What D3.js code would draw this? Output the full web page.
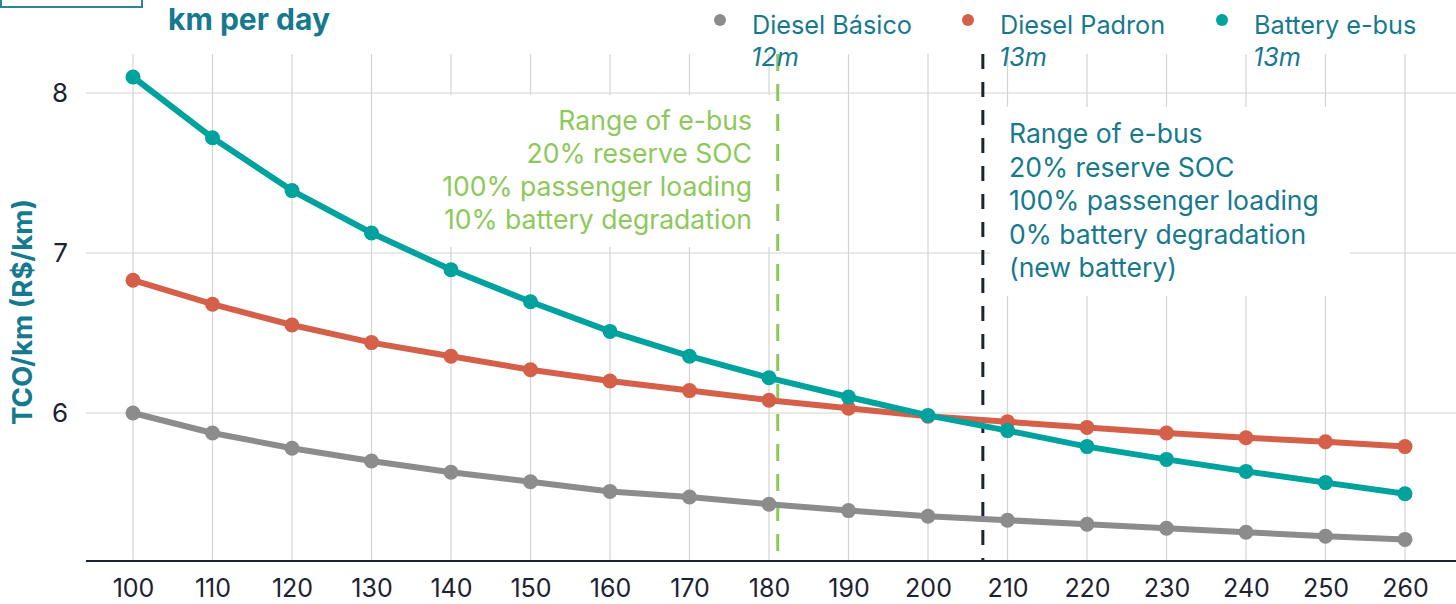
<!DOCTYPE html>
<html>
<head>
<meta charset="utf-8">
<script src="https://cdn.jsdelivr.net/npm/d3@7"></script>
<style>
  html, body { margin: 0; padding: 0; background: #fff; }
  svg { display: block; }
</style>
</head>
<body>
<svg id="chart" width="1456" height="604"></svg>
<script>
// ---- data ----
const kmPerDay = [100, 110, 120, 130, 140, 150, 160, 170, 180, 190, 200, 210, 220, 230, 240, 250, 260];
const dieselBasico = [6.00, 5.875, 5.78, 5.70, 5.63, 5.57, 5.51, 5.475, 5.43, 5.39, 5.355, 5.33, 5.305, 5.28, 5.255, 5.23, 5.21];
const dieselPadron = [6.83, 6.68, 6.55, 6.44, 6.355, 6.27, 6.20, 6.14, 6.08, 6.03, 5.98, 5.945, 5.91, 5.875, 5.845, 5.82, 5.79];
const batteryEbus = [8.10, 7.72, 7.39, 7.125, 6.895, 6.695, 6.51, 6.355, 6.22, 6.10, 5.985, 5.89, 5.79, 5.71, 5.635, 5.565, 5.495];
const yTicks = [6, 7, 8];
const seriesNames = ["Diesel Básico", "Diesel Padron", "Battery e-bus"];
const seriesSizes = ["12m", "13m", "13m"];
const rangeDegraded = 181.1;   // e-bus range, 10% degradation
const rangeNew = 206.9;        // e-bus range, new battery
const noteDegraded = ["Range of e-bus", "20% reserve SOC", "100% passenger loading", "10% battery degradation"];
const noteNew = ["Range of e-bus", "20% reserve SOC", "100% passenger loading", "0% battery degradation", "(new battery)"];

// ---- styles ----
const colors = ["#8c8c8c", "#d4604a", "#00a29d"];
const textTeal = "#17798e";
const green = "#8dc85b";
const dark = "#1c2232";
const gridColor = "#d4d4d4";
const FONT = "Inter, 'Open Sans', sans-serif";

const svg = d3.select("#chart");
const plotLeft = 86, plotRight = 1456, plotTop = 54, plotBottom = 561;

const x = d3.scaleLinear().domain([100, 260]).range([133, 1405]);
const y = d3.scaleLinear().domain([6, 8]).range([413, 93]);

// fit a text element's font size so that its width matches a target
function fitWidth(sel, target) {
  sel.each(function () {
    const w = this.getComputedTextLength();
    const fs = parseFloat(d3.select(this).attr("font-size"));
    if (w > 0) d3.select(this).attr("font-size", (fs * target / w).toFixed(2));
  });
}

// gridlines
svg.append("g").selectAll("line").data(yTicks).join("line")
  .attr("x1", plotLeft).attr("x2", plotRight)
  .attr("y1", d => y(d)).attr("y2", d => y(d))
  .attr("stroke", gridColor).attr("stroke-width", 1.2);
svg.append("g").selectAll("line").data(kmPerDay).join("line")
  .attr("x1", d => x(d)).attr("x2", d => x(d))
  .attr("y1", plotTop).attr("y2", plotBottom)
  .attr("stroke", gridColor).attr("stroke-width", 1.2);

// annotation backgrounds
svg.append("rect").attr("x", 415).attr("y", 95).attr("width", 360).attr("height", 152).attr("fill", "#fff");
svg.append("rect").attr("x", 990).attr("y", 107).attr("width", 360).attr("height", 189).attr("fill", "#fff");

// x axis
const xAxis = d3.axisBottom(x).tickValues(kmPerDay).tickSize(0).tickPadding(18).tickFormat(d3.format("d"));
const gx = svg.append("g").attr("transform", `translate(0,${plotBottom})`).call(xAxis);
gx.select(".domain").remove();
gx.selectAll("text").attr("font-family", FONT).attr("font-size", 25).attr("fill", dark);
svg.append("line").attr("x1", plotLeft).attr("x2", plotRight).attr("y1", plotBottom).attr("y2", plotBottom)
  .attr("stroke", dark).attr("stroke-width", 2);

// y axis
const yAxis = d3.axisLeft(y).tickValues(yTicks).tickSize(0).tickPadding(0).tickFormat(d3.format("d"));
const gy = svg.append("g").attr("transform", `translate(68,0)`).call(yAxis);
gy.select(".domain").remove();
gy.selectAll("text").attr("font-family", FONT).attr("font-size", 26).attr("fill", dark);

// y label
const yl = svg.append("text").attr("transform", "translate(32,312) rotate(-90)")
  .attr("text-anchor", "middle").attr("font-family", FONT).attr("font-weight", 700)
  .attr("font-size", 22).attr("fill", textTeal).text("TCO/km (R$/km)");
fitWidth(yl, 226);

// title
const tt = svg.append("text").attr("x", 168).attr("y", 30).attr("font-family", FONT).attr("font-weight", 700)
  .attr("font-size", 26).attr("fill", textTeal).text("km per day");
fitWidth(tt, 162);

// top-left box remnant
svg.append("rect").attr("x", 1).attr("y", -4).attr("width", 141).attr("height", 11)
  .attr("fill", "none").attr("stroke", "#2a8596").attr("stroke-width", 2);

// dashed range lines
svg.append("line").attr("x1", x(rangeDegraded)).attr("x2", x(rangeDegraded)).attr("y1", plotTop).attr("y2", plotBottom)
  .attr("stroke", green).attr("stroke-width", 3).attr("stroke-dasharray", "17,13");
svg.append("line").attr("x1", x(rangeNew)).attr("x2", x(rangeNew)).attr("y1", plotTop).attr("y2", plotBottom)
  .attr("stroke", dark).attr("stroke-width", 3).attr("stroke-dasharray", "15,13");

// annotation texts
const t1 = svg.append("text").attr("font-family", FONT).attr("font-size", 24)
  .attr("fill", green).attr("text-anchor", "end");
noteDegraded.forEach((s, i) => t1.append("tspan").attr("x", 752).attr("y", 130 + i * 33).text(s));
const t2 = svg.append("text").attr("font-family", FONT).attr("font-size", 24)
  .attr("fill", textTeal).attr("text-anchor", "start");
noteNew.forEach((s, i) => t2.append("tspan").attr("x", 1009).attr("y", 143 + i * 33.5).text(s));
// scale annotation font so "100% passenger loading" is ~310px wide
{
  const tsp = t2.selectAll("tspan").filter((d, i) => i === 2).node();
  const w = tsp.getComputedTextLength();
  const fs = 24 * 310 / w;
  t1.attr("font-size", fs.toFixed(2));
  t2.attr("font-size", fs.toFixed(2));
}

// series
const allSeries = [dieselBasico, dieselPadron, batteryEbus];
const line = d3.line().x((d, i) => x(kmPerDay[i])).y(d => y(d));
allSeries.forEach((vals, si) => {
  const g = svg.append("g");
  g.append("path").datum(vals).attr("d", line).attr("fill", "none")
    .attr("stroke", colors[si]).attr("stroke-width", 6).attr("stroke-linejoin", "round");
  g.selectAll("circle").data(vals).join("circle")
    .attr("cx", (d, i) => x(kmPerDay[i])).attr("cy", d => y(d)).attr("r", 7.5).attr("fill", colors[si]);
});

// legend
const legendX = [720, 968, 1222];
let legendFs = 22;
seriesNames.forEach((n, i) => {
  svg.append("circle").attr("cx", legendX[i]).attr("cy", 20).attr("r", 6).attr("fill", colors[i]);
  const lt = svg.append("text").attr("x", legendX[i] + 32).attr("y", 34).attr("font-family", FONT)
    .attr("font-size", 22).attr("fill", textTeal).text(n);
  if (i === 0) { fitWidth(lt, 160); legendFs = parseFloat(lt.attr("font-size")); }
  else lt.attr("font-size", legendFs);
  svg.append("text").attr("x", legendX[i] + 31).attr("y", 66).attr("font-family", FONT)
    .attr("font-style", "italic").attr("font-size", legendFs).attr("fill", textTeal).text(seriesSizes[i]);
});
</script>
</body>
</html>
